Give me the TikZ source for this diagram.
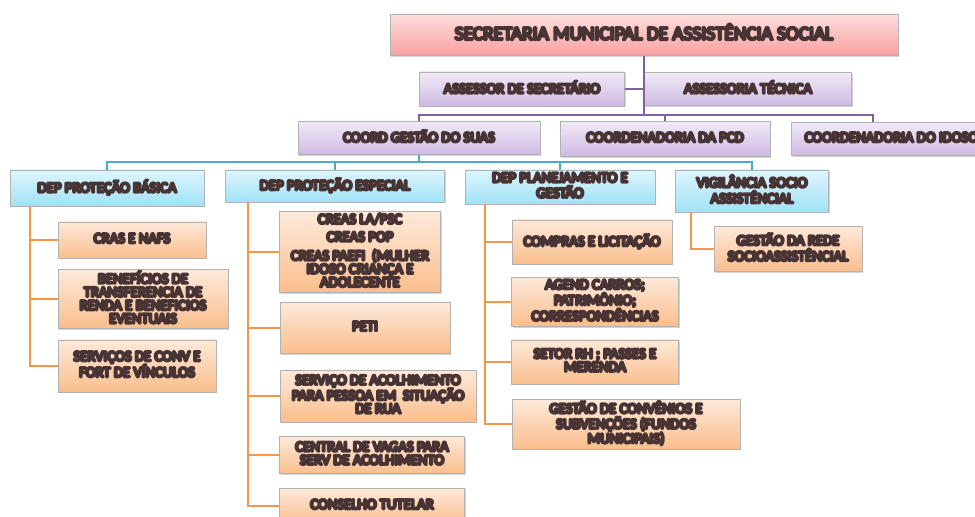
\documentclass[tikz,border=0pt]{standalone}
\usepackage{fontspec}
\setmainfont{Carlito}
\usepackage{xcolor}
\usepackage{tikz}
\usetikzlibrary{calc, shadows}

\definecolor{txt}{RGB}{72,52,52}
\definecolor{brilho}{RGB}{242,135,135}
\definecolor{rosaA}{RGB}{253,222,222}
\definecolor{rosaB}{RGB}{249,160,160}
\definecolor{lilA}{RGB}{240,234,247}
\definecolor{lilB}{RGB}{206,186,228}
\definecolor{azA}{RGB}{222,245,252}
\definecolor{azB}{RGB}{160,226,247}
\definecolor{lrA}{RGB}{253,233,218}
\definecolor{lrB}{RGB}{250,190,140}
\definecolor{roxo}{RGB}{128,96,160}
\definecolor{azul}{RGB}{75,172,200}
\definecolor{laranja}{RGB}{247,150,70}

% texto com brilho vermelho
\newcommand\gl[1]{\sbox0{\begin{tabular}{@{}c@{}}#1\end{tabular}}%
  \rlap{\color{brilho}\special{pdf:literal direct 1 Tr 1.5 w 1 J 1 j}\copy0%
  \special{pdf:literal direct 0 Tr}}\box0}

\tikzset{
  box/.style={draw=black!30, align=center, inner sep=1pt, text=txt,
              font=\fontsize{8.4}{7}\selectfont,
              drop shadow={shadow xshift=0.8pt, shadow yshift=-0.8pt, opacity=0.35}},
  sz/.style 2 args={minimum width=#1*0.02cm, minimum height=#2*0.02cm},
  rosa/.style={box, top color=rosaA, bottom color=rosaB},
  lilas/.style={box, top color=lilA, bottom color=lilB},
  celeste/.style={box, top color=azA, bottom color=azB},
  pessego/.style={box, top color=lrA, bottom color=lrB},
  lroxa/.style={draw=roxo, line width=1.2pt},
  lazul/.style={draw=azul, line width=1.2pt},
  llaranja/.style={draw=laranja, line width=1.2pt}
}

\begin{document}
\begin{tikzpicture}[x=0.02cm, y=-0.02cm]
\useasboundingbox (0,0) rectangle (975,517);
\clip (0,0) rectangle (975,517);

% secretaria e assessorias
\node[rosa, sz={508}{41}, font=\fontsize{11}{12}\selectfont] (sec) at (644,35)
  {\gl{SECRETARIA MUNICIPAL DE ASSISTÊNCIA SOCIAL}};
\node[lilas, sz={205}{34}] (assr) at (522,89) {\gl{ASSESSOR DE SECRETÁRIO}};
\node[lilas, sz={207}{33}] (asst) at (748,89) {\gl{ASSESSORIA TÉCNICA}};

% coordenadorias
\node[lilas, sz={242}{33}] (suas) at (419,138) {\gl{COORD GESTÃO DO SUAS}};
\node[lilas, sz={210}{35}] (pcd) at (665,139) {\gl{COORDENADORIA DA PCD}};
\node[lilas, sz={200}{33}, anchor=west] (idoso) at (791,139) {\gl{COORDENADORIA DO IDOSO}};

% departamentos
\node[celeste, sz={194}{36}] (dpb) at (107,188) {\gl{DEP PROTEÇÃO BÁSICA}};
\node[celeste, sz={219}{32}] (dpe) at (335,186) {\gl{DEP PROTEÇÃO ESPECIAL}};
\node[celeste, sz={190}{34}] (dpg) at (560,187) {\gl{DEP PLANEJAMENTO E\\GESTÃO}};
\node[celeste, sz={153}{42}] (vig) at (752,191) {\gl{VIGILÂNCIA SOCIO\\ASSISTÊNCIAL}};

% protecao basica
\node[pessego, sz={148}{36}] (cras) at (132,240) {\gl{CRAS E NAFS}};
\node[pessego, sz={170}{52}] (benef) at (143,299)
  {\gl{BENEFÍCIOS DE\\TRANSFERENCIA DE\\RENDA E BENEFICIOS\\EVENTUAIS}};
\node[pessego, sz={158}{52}] (servconv) at (137,366)
  {\gl{SERVIÇOS DE CONV E\\FORT DE VÍNCULOS}};

% protecao especial
\node[pessego, sz={161}{71}] (creas) at (360,252)
  {\gl{CREAS LA/PSC\\[2.5pt]CREAS POP\\[2.5pt]CREAS PAEFI~~(MULHER\\IDOSO CRIANÇA E\\ADOLECENTE}};
\node[pessego, sz={170}{51}] (peti) at (365,328) {\gl{PETI}};
\node[pessego, sz={196}{52}] (acolh) at (378,396)
  {\gl{SERVIÇO DE ACOLHIMENTO\\PARA PESSOA EM~~SITUAÇÃO\\DE RUA}};
\node[pessego, sz={185}{37}] (vagas) at (372,455)
  {\gl{CENTRAL DE VAGAS PARA\\SERV DE ACOLHIMENTO}};
\node[pessego, sz={185}{36}] (conselho) at (372,506) {\gl{CONSELHO TUTELAR}};

% planejamento e gestao
\node[pessego, sz={160}{44}] (compras) at (592,242) {\gl{COMPRAS E LICITAÇÃO}};
\node[pessego, sz={167}{46}] (agend) at (595,302)
  {\gl{AGEND CARROS;\\PATRIMÔNIO;\\CORRESPONDÊNCIAS}};
\node[pessego, sz={167}{44}] (setor) at (595,362) {\gl{SETOR RH ; PASSES E\\MERENDA}};
\node[pessego, sz={228}{50}] (conv) at (626,424)
  {\gl{GESTÃO DE CONVÊNIOS E\\SUBVENÇÕES (FUNDOS\\MUNICIPAIS)}};

% vigilancia
\node[pessego, sz={148}{45}] (rede) at (788,249) {\gl{GESTÃO DA REDE\\SOCIOASSISTÊNCIAL}};

% ligacoes
\coordinate (ya) at (0,115);
\coordinate (yb) at (0,162);
\coordinate (idosoN) at ([xshift=1.64cm]idoso.north west);

\draw[lroxa] (sec.south) -- (sec.south |- ya);
\draw[lroxa] (assr.east) -- (asst.west);
\draw[lroxa] (suas.north) |- (idosoN |- ya) -- (idosoN);
\draw[lroxa] (pcd.north) -- (pcd.north |- ya);

\draw[lazul] (suas.south) -- (suas.south |- yb);
\draw[lazul] (dpb.north) |- (vig.north |- yb) -- (vig.north);
\foreach \d in {dpe,dpg}
  \draw[lazul] (\d.north) -- (\d.north |- yb);

\foreach \f in {cras,benef,servconv}
  \draw[llaranja] ([xshift=0.4cm]dpb.south west) |- (\f.west);
\foreach \f in {creas,peti,acolh,vagas,conselho}
  \draw[llaranja] ([xshift=0.46cm]dpe.south west) |- (\f.west);
\foreach \f in {compras,agend,setor,conv}
  \draw[llaranja] ([xshift=0.4cm]dpg.south west) |- (\f.west);
\draw[llaranja] ([xshift=0.32cm]vig.south west) |- (rede.west);
\end{tikzpicture}
\end{document}
